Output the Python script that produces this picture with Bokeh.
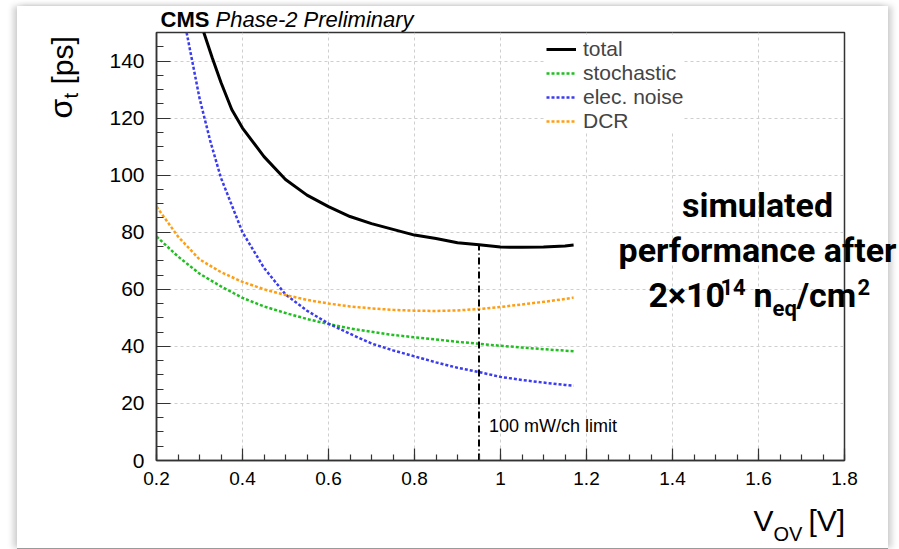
from math import pi
from bokeh.plotting import figure
from bokeh.models import (Label, Legend, LegendItem, Range1d, FixedTicker,
                          CustomJSTickFormatter)
from bokeh.embed import file_html
from bokeh.resources import INLINE

# ---------------- data ----------------
v_ov = [0.20, 0.25, 0.30, 0.35, 0.40, 0.45, 0.50, 0.55, 0.60, 0.65, 0.70,
        0.75, 0.80, 0.85, 0.90, 0.95, 1.00, 1.05, 1.10, 1.15, 1.17]
stochastic = [78.5, 71.5, 65.5, 61.0, 57.0, 54.0, 51.7, 49.6, 47.8, 46.3, 45.1,
              44.0, 43.2, 42.4, 41.6, 40.9, 40.2, 39.6, 39.0, 38.5, 38.3]
dcr = [89.0, 78.5, 70.5, 66.0, 62.6, 60.0, 58.0, 56.3, 55.0, 54.0, 53.3,
       52.8, 52.5, 52.4, 52.6, 53.1, 53.8, 54.7, 55.6, 56.6, 57.1]

v_noise = [0.27, 0.30, 0.325, 0.35, 0.40, 0.45, 0.50, 0.55, 0.60, 0.65, 0.70, 0.75,
           0.80, 0.85, 0.90, 0.95, 1.00, 1.05, 1.10, 1.15, 1.17]
elec_noise = [150.0, 127.0, 112.0, 99.0, 80.0, 67.5, 58.2, 52.5, 48.0, 44.4, 41.0, 38.6,
              36.5, 34.4, 32.5, 31.0, 29.3, 28.2, 27.3, 26.5, 26.2]

v_total = [0.31, 0.33, 0.35, 0.375, 0.40, 0.45, 0.50, 0.55, 0.60, 0.65, 0.70, 0.75,
           0.80, 0.85, 0.90, 0.95, 1.00, 1.05, 1.10, 1.15, 1.17]
total = [150.0, 141.0, 132.5, 123.0, 116.5, 106.5, 98.5, 93.0, 89.0, 85.5, 83.0, 81.0,
         79.0, 77.8, 76.3, 75.6, 74.8, 74.7, 74.8, 75.2, 75.5]

limit_v = 0.95
limit_sigma = 75.6

x_ticks = [0.2, 0.4, 0.6, 0.8, 1.0, 1.2, 1.4, 1.6, 1.8]
y_ticks = [0, 20, 40, 60, 80, 100, 120, 140]
x_minor = [round(0.2 + 0.05 * i, 2) for i in range(33)]
y_minor = [5 * i for i in range(31)]

series_names = ["total", "stochastic", "elec. noise", "DCR"]

# ---------------- main figure ----------------
FL, FR, FT, FB = 156, 844, 32, 460   # frame edges in window px
OX, OY = 17, 6                        # card offset in window
p = figure(width=871, height=542, x_range=Range1d(0.2, 1.8), y_range=Range1d(0, 150),
           output_backend="svg", toolbar_location=None,
           min_border_left=FL - OX, min_border_right=888 - FR,
           min_border_top=FT - OY, min_border_bottom=548 - FB)
p.styles = {"margin-left": f"{OX}px", "margin-top": f"{OY}px",
            "box-shadow": "0px 1px 0px #9a9a9a, -4px 0px 6px rgba(0,0,0,0.18), 4px 0px 6px rgba(0,0,0,0.18)"}
p.background_fill_color = "white"
p.border_fill_color = "white"
p.outline_line_color = "#333333"
p.outline_line_width = 1.5

# axes
p.xaxis.ticker = FixedTicker(ticks=x_ticks, minor_ticks=x_minor)
p.yaxis.ticker = FixedTicker(ticks=y_ticks, minor_ticks=y_minor)
p.xaxis.formatter = CustomJSTickFormatter(code="return String(Math.round(tick*10)/10)")
for ax in (p.xaxis, p.yaxis):
    ax.axis_line_color = "#333333"
    ax.axis_line_width = 1.5
    ax.major_tick_line_color = "#333333"
    ax.minor_tick_line_color = "#333333"
    ax.major_tick_line_width = 1.2
    ax.minor_tick_line_width = 1.2
    ax.major_tick_out = 0
    ax.minor_tick_out = 0
    ax.major_label_text_font = "Liberation Sans"
    ax.major_label_text_color = "black"
p.xaxis.major_tick_in = 12
p.xaxis.minor_tick_in = 6
p.yaxis.major_tick_in = 14
p.yaxis.minor_tick_in = 7
p.xaxis.major_label_text_font_size = "19px"
p.yaxis.major_label_text_font_size = "21px"
p.yaxis.major_label_standoff = 12
p.xaxis.major_label_standoff = 11

# grid
p.xgrid.ticker = FixedTicker(ticks=x_ticks[1:-1])
p.ygrid.ticker = FixedTicker(ticks=y_ticks[1:])
for g in (p.xgrid, p.ygrid):
    g.grid_line_color = "#cfcfcf"
    g.grid_line_dash = "3 3"
    g.grid_line_width = 1

# curves
r_tot = p.line(v_total, total, line_color="black", line_width=3)
r_sto = p.line(v_ov, stochastic, line_color="#1fbf1f", line_width=2.5, line_dash="3 2")
r_ele = p.line(v_noise, elec_noise, line_color="#3b3bf0", line_width=2.5, line_dash="3 2")
r_dcr = p.line(v_ov, dcr, line_color="#ff9e12", line_width=2.5, line_dash="3 2")

# limit line
p.segment(x0=[limit_v], y0=[0], x1=[limit_v], y1=[limit_sigma],
          line_color="black", line_width=2, line_dash="7 3 1 3")
p.add_layout(Label(x=limit_v, y=0, x_offset=10, y_offset=25, text="100 mW/ch limit",
                   text_font="Liberation Sans", text_font_size="18px",
                   text_color="black"))

legend = Legend(items=[LegendItem(label=series_names[0], renderers=[r_tot]),
                       LegendItem(label=series_names[1], renderers=[r_sto]),
                       LegendItem(label=series_names[2], renderers=[r_ele]),
                       LegendItem(label=series_names[3], renderers=[r_dcr])],
                location=(390, 327), padding=4, spacing=0, margin=0,
                glyph_width=30, glyph_height=20, label_height=20, label_standoff=7,
                label_text_font="Liberation Sans", label_text_font_size="21px",
                border_line_color=None, background_fill_color="white",
                background_fill_alpha=1.0)
p.add_layout(legend, "center")

# ---------------- transparent overlay for texts outside the frame ----------------
W, H = 899, 549
ov = figure(width=W, height=H, x_range=Range1d(0, W), y_range=Range1d(0, H),
            output_backend="svg", toolbar_location=None, min_border=0,
            x_axis_location=None, y_axis_location=None)
ov.grid.visible = False
ov.outline_line_color = None
ov.background_fill_color = None
ov.border_fill_color = None
ov.styles = {"position": "absolute", "left": "0px", "top": "0px", "pointer-events": "none"}

DESC = {"Liberation Sans": 0.212, "Roboto": 0.271}


def lab(px, py, text, size, font="Liberation Sans", style="normal", align="left",
        rotated=False):
    """px, py: window pixel position of the text baseline start."""
    d = DESC[font] * size
    if rotated:
        x, y, ang = px + d, H - py, pi / 2
    else:
        x, y, ang = px, H - py - d, 0.0
    ov.add_layout(Label(x=x, y=y, text=text, text_font=font,
                        text_font_size=f"{size}px", text_font_style=style,
                        text_align=align, text_baseline="bottom", angle=ang,
                        text_color="black"))


# title
lab(160, 27, "CMS", 22, style="bold")
lab(215, 27, "Phase-2 Preliminary", 22, style="italic")

# y axis label  (sigma_t [ps]) rotated
lab(72, 118, "σ", 32, rotated=True)
lab(77, 98, "t", 20, rotated=True)
lab(72, 84, "[ps]", 30, rotated=True)

# x axis label  (V_OV [V])
lab(753, 530, "V", 30)
lab(773, 540, "OV", 20)
lab(808, 530, "[V]", 30)

# big annotation
BIG = "Roboto"
lab(757, 215, "simulated", 34, font=BIG, style="bold", align="center")
lab(757, 260, "performance after", 34, font=BIG, style="bold", align="center")
lab(648, 305, "2×10", 34, font=BIG, style="bold")
lab(720, 289, "14", 22, font=BIG, style="bold")
lab(753, 305, "n", 34, font=BIG, style="bold")
lab(772, 315, "eq", 22, font=BIG, style="bold")
lab(796, 305, "/cm", 34, font=BIG, style="bold")
lab(857, 289, "2", 22, font=BIG, style="bold")

open("out.html", "w").write(file_html([p, ov], INLINE))
